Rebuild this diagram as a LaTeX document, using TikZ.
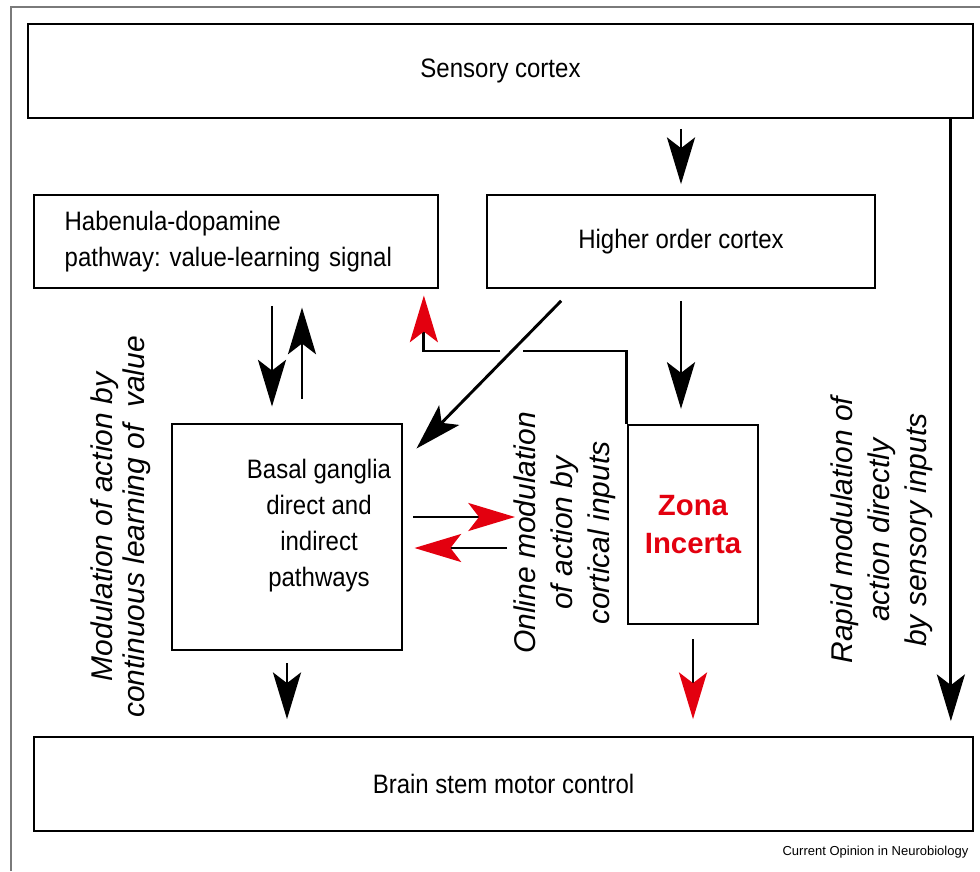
\documentclass[tikz,border=0pt]{standalone}
\usepackage{fontspec}
\setmainfont{Liberation Sans}
\newfontfamily\narrowsans[FakeStretch=0.9]{Liberation Sans}
\usepackage{xcolor}
\usetikzlibrary{positioning, arrows.meta, calc}
\definecolor{zired}{HTML}{E3000F}
\definecolor{framegray}{HTML}{7A7A7A}
\frenchspacing

\tikzset{
  region/.style={draw, line width=1.3pt, font=\narrowsans\fontsize{20}{27}\selectfont, align=center},
  nucleus/.style={draw, line width=2.2pt, font=\narrowsans\fontsize{20}{27}\selectfont, align=center},
  route/.style={line width=2.2pt, -{Stealth[length=35pt, width=21pt, inset=8pt]}},
  redroute/.style={line width=2.2pt, -{Stealth[length=35pt, width=21pt, inset=8pt, color=zired]}},
  sidenote/.style={rotate=90, align=center, font=\fontsize{22.5}{27.75}\selectfont\itshape},
}

\begin{document}
\begin{tikzpicture}[x=0.75pt, y=-0.75pt]
    \useasboundingbox (0,0) rectangle (980,871);
    \draw[framegray, line width=1pt] (11,871) -- (11,7) -- (980,7);

    % boxes
    \node[region, minimum width=708.75pt, minimum height=70.5pt] (sensory) at (500.5,71) {Sensory cortex};
    \node[region, align=left, minimum width=303pt, minimum height=69.75pt,
          text width=257pt] (hab) at (236,241.5) {Habenula-dopamine\\pathway: value-learning signal};
    \node[region, minimum width=291pt, minimum height=69.75pt] (higher) at (681,241.5) {Higher order cortex};
    \node[nucleus, minimum width=172.5pt, minimum height=169.5pt] (bg) at (287,537) {};
    \node[font=\narrowsans\fontsize{20}{27}\selectfont, align=center] (bglabel) at (319,526)
      {Basal ganglia\\direct and\\indirect\\pathways};
    \node[nucleus, minimum width=97.5pt, minimum height=149.25pt, text=zired,
          font=\fontsize{22}{29}\selectfont\bfseries] (zi) at (693,524.5) {Zona\\Incerta};
    \node[region, minimum width=704.25pt, minimum height=70.5pt] (brain) at (503.5,784) {Brain stem motor control};

    % side notes
    \node[sidenote, font=\fontsize{22.5}{24}\selectfont\itshape] (valuenote) at (121,527)
      {Modulation of action by\\continuous learning of\ \ value};
    \node[sidenote] (onlinenote) at (565,533) {Online modulation\\of action by\\cortical inputs};
    \node[sidenote] (rapidnote) at (882,530) {Rapid modulation of\\action directly\\by sensory inputs};

    % connections
    \draw[route, shorten <=7.5pt, shorten >=7.5pt] (sensory.south -| higher.north) -- (higher.north);
    \draw[route, shorten <=9pt, shorten >=11pt] (higher.south) -- (higher.south |- zi.north);
    \draw[route, shorten <=12.75pt, shorten >=12pt] ([xshift=-11.25pt]bg.north |- hab.south) -- ([xshift=-11.25pt]bg.north);
    \draw[route, shorten <=18pt, shorten >=14pt] ([xshift=11.25pt]bg.north) -- ([xshift=11.25pt]bg.north |- hab.south);
    \draw[route, shorten <=9pt, shorten >=12.75pt] (bg.south) -- (bg.south |- brain.north);
    \draw[redroute, shorten <=10.5pt, shorten >=12.75pt] (zi.south) -- (zi.south |- brain.north);
    \draw[route, shorten >=11.25pt] ([xshift=-17.25pt]sensory.south east) -- ([xshift=-17.25pt]sensory.south east |- brain.north);
    \draw[route] ([xshift=56.25pt, yshift=-9pt]higher.south west) -- ([xshift=9.75pt, yshift=-19.5pt]bg.north east);

    % zona incerta feedback, broken where the cortical arrow crosses
    \coordinate (gapL) at (500,351);
    \coordinate (gapR) at (523,351);
    \draw[line width=1.9pt] (zi.north west) |- (gapR);
    \draw[redroute, shorten >=5pt] (gapL) -| ([xshift=-11.25pt]hab.south east);

    \coordinate (onlineR) at (515,517);
    \coordinate (onlineL) at (507,548);
    \draw[redroute] ([xshift=7.5pt, yshift=15pt]bg.east) -- (onlineR);
    \draw[redroute] (onlineL) -- ([xshift=8.25pt, yshift=-8.25pt]bg.east);

    \node[font=\fontsize{9.75}{12}\selectfont, anchor=east] (credit) at (973,852) {Current Opinion in Neurobiology};
\end{tikzpicture}
\end{document}
